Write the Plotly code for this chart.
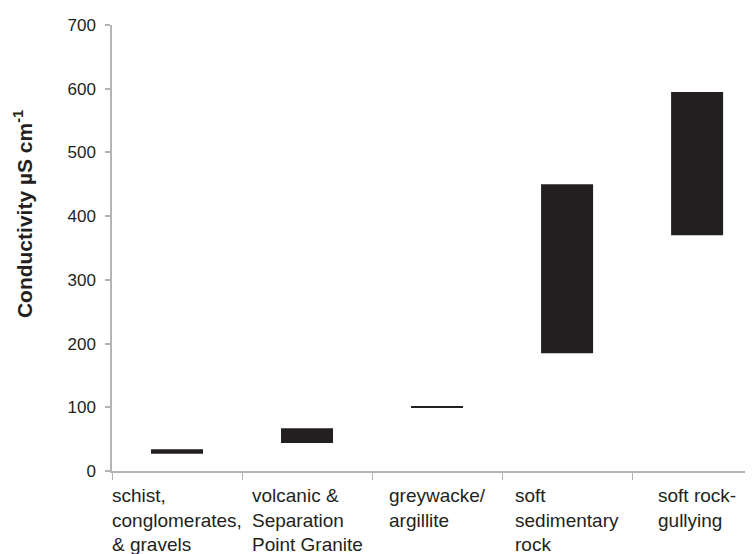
import plotly.graph_objects as go

categories = ["schist,<br>conglomerates,<br>& gravels",
              "volcanic &<br>Separation<br>Point Granite",
              "greywacke/<br>argillite",
              "soft<br>sedimentary<br>rock",
              "soft rock-<br>gullying"]
low_values = [27, 44, 99, 185, 370]
high_values = [34, 67, 101, 450, 595]
y_ticks = [0, 100, 200, 300, 400, 500, 600, 700]
y_title = "<b>Conductivity µS cm<sup>-1</sup></b>"

x_idx = list(range(len(categories)))
ink = "#231f20"
axis_grey = "#b4b4b4"
font_family = "Liberation Sans, Arial, Helvetica, sans-serif"

fig = go.Figure()
fig.add_trace(go.Bar(
    x=x_idx,
    y=[h - l for l, h in zip(low_values, high_values)],
    base=low_values,
    width=0.4,
    marker=dict(color=ink, line=dict(width=0)),
    showlegend=False,
    hoverinfo="skip",
))

for i, lab in enumerate(categories):
    fig.add_annotation(
        x=i, xref="x", y=0, yref="paper",
        text=lab, showarrow=False, align="left",
        xanchor="center", yanchor="top", yshift=-12,
        font=dict(family=font_family, size=19, color=ink),
    )

# y-axis title (placed slightly above the plot's vertical centre, as in the original)
fig.add_annotation(
    x=0, xref="paper", y=0.576, yref="paper",
    text=y_title, showarrow=False, textangle=-90,
    xanchor="center", yanchor="middle", xshift=-89,
    font=dict(family=font_family, size=21, color=ink),
)

fig.update_layout(
    width=745, height=546,
    margin=dict(l=104, r=0, t=17, b=83, autoexpand=False),
    paper_bgcolor="white", plot_bgcolor="white",
    font=dict(family=font_family, color=ink),
    xaxis=dict(
        type="linear",
        range=[-0.5, 4.43],
        tickvals=[i - 0.5 for i in x_idx],
        showticklabels=False,
        ticks="outside", ticklen=7, tickcolor=axis_grey, tickwidth=1,
        showline=True, linecolor=axis_grey, linewidth=1.5,
        showgrid=False, zeroline=False,
    ),
    yaxis=dict(
        range=[0, 700],
        tickvals=y_ticks,
        ticks="outside", ticklen=5, tickcolor=axis_grey, tickwidth=1.5,
        ticklabelstandoff=6,
        showline=True, linecolor=axis_grey, linewidth=1.5,
        showgrid=False, zeroline=False,
        automargin=False,
        tickfont=dict(size=17, color=ink),
    ),
)

fig.write_html("out.html")
